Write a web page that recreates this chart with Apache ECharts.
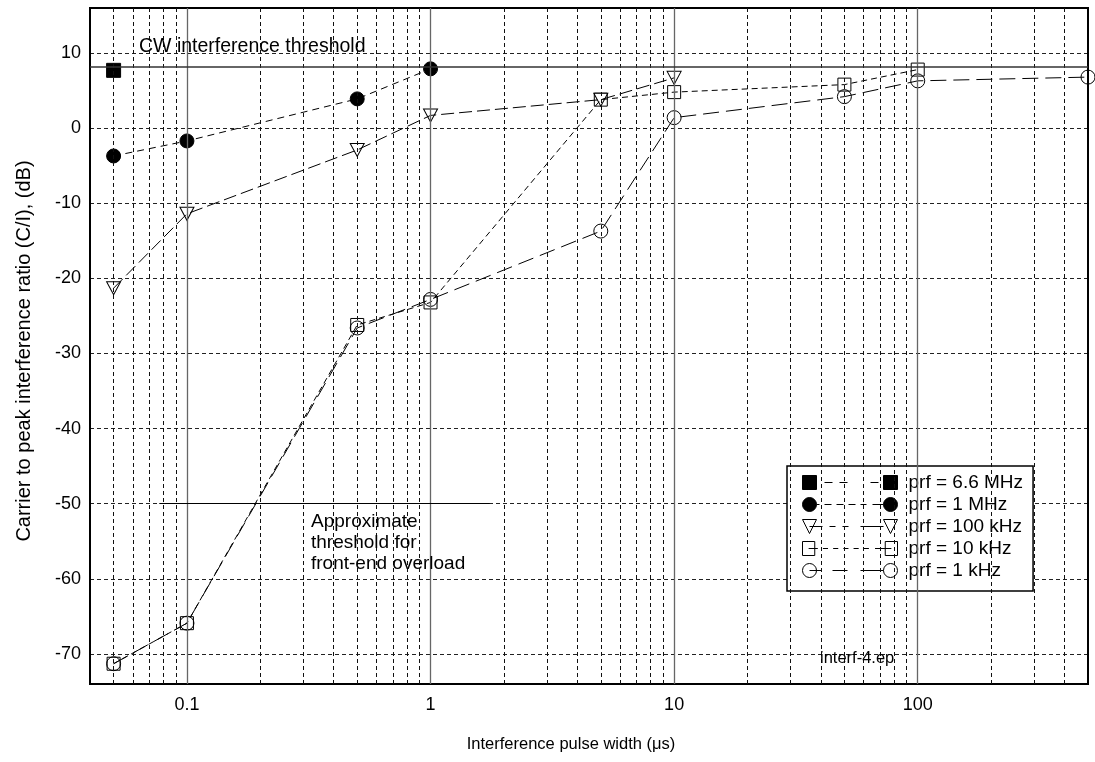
<!DOCTYPE html>
<html>
<head>
<meta charset="utf-8">
<style>
  html, body { margin: 0; padding: 0; background: #fff; }
  #chart { width: 1095px; height: 762px; }
</style>
<script src="https://cdn.jsdelivr.net/npm/echarts@6/dist/echarts.min.js"></script>
</head>
<body>
<div id="chart"></div>
<script>
// Pulse width (µs) and carrier-to-peak-interference ratio (dB) per pulse repetition frequency
const pulseWidth66MHz = [0.05];
const ci66MHz = [7.7];

const pulseWidth1MHz = [0.05, 0.1, 0.5, 1];
const ci1MHz = [-3.7, -1.7, 3.9, 7.9];

const pulseWidth100kHz = [0.05, 0.1, 0.5, 1, 5, 10];
const ci100kHz = [-21.3, -11.4, -2.9, 1.7, 3.8, 6.7];

const pulseWidth10kHz = [0.05, 0.1, 0.5, 1, 5, 10, 50, 100];
const ci10kHz = [-71.3, -65.9, -26.2, -23.2, 3.8, 4.8, 5.8, 7.8];

const pulseWidth1kHz = [0.05, 0.1, 0.5, 1, 5, 10, 50, 100, 500];
const ci1kHz = [-71.3, -65.9, -26.6, -22.8, -13.7, 1.4, 4.2, 6.3, 6.8];

const seriesNames = ['prf = 6.6 MHz', 'prf = 1 MHz', 'prf = 100 kHz', 'prf = 10 kHz', 'prf = 1 kHz'];

// Reference levels
const cwThreshold = 8.2;
const overloadLevel = -50;
const overloadSpan = [0.077, 1.75];

// Log grid: decades (solid) and 2..9 of each decade (dashed)
const decadeGridX = [0.1, 1, 10, 100];
const minorGridX = [0.05, 0.06, 0.07, 0.08, 0.09,
  0.2, 0.3, 0.4, 0.5, 0.6, 0.7, 0.8, 0.9,
  2, 3, 4, 5, 6, 7, 8, 9,
  20, 30, 40, 50, 60, 70, 80, 90,
  200, 300, 400];

const xMin = 0.04, xMax = 500;
const yMin = -74, yMax = 16;

const FONT = 'Liberation Sans, Arial, Helvetica, sans-serif';

function pairs(xs, ys) { return xs.map((x, i) => [x, ys[i]]); }

const triangleDown = 'path://M0,0L14,0L7,13Z';

const openStyle = { color: 'rgba(0,0,0,0)', borderColor: '#000', borderWidth: 1 };
const filledStyle = { color: '#000', borderColor: '#000', borderWidth: 1 };

// Legend samples: marker, line pattern, marker
const legendIcons = [
  'path://M0,0L14,0L14,14L0,14Z M22,7L30,7 M37,7L45,7 M68,7L76,7 M81,0L95,0L95,14L81,14Z',
  'path://M0,7A7,7,0,1,1,14,7A7,7,0,1,1,0,7Z M14,7L17,7 M22,7L29,7 M34,7L41,7 M46,7L53,7 M58,7L64,7 M70,7L81,7 M81,7A7,7,0,1,1,95,7A7,7,0,1,1,81,7Z',
  'path://M0,0L14,0L7,14Z M7,7L20,7 M27,7L33,7 M40,7L46,7 M58,7L81,7 M81,0L95,0L88,14Z',
  'path://M1,1L13,1L13,13L1,13Z M7,7L16,7 M21,7L26,7 M31,7L36,7 M41,7L46,7 M51,7L56,7 M61,7L66,7 M72,7L88,7 M82,1L94,1L94,13L82,13Z',
  'path://M0,7A7,7,0,1,1,14,7A7,7,0,1,1,0,7Z M7,7L19,7 M30,7L45,7 M58,7L81,7 M81,7A7,7,0,1,1,95,7A7,7,0,1,1,81,7Z'
];
const legendFills = [filledStyle, filledStyle, openStyle, openStyle, openStyle];

function isDecade(v) {
  const l = Math.log10(v);
  return Math.abs(l - Math.round(l)) < 1e-6;
}

const chart = echarts.init(document.getElementById('chart'), null, { renderer: 'canvas' });

const option = {
  animation: false,
  backgroundColor: '#fff',
  textStyle: { fontFamily: FONT },
  grid: {
    left: 90, top: 8, right: 7, bottom: 78,
    show: true, borderColor: '#000', borderWidth: 2, backgroundColor: '#fff'
  },
  legend: {
    orient: 'vertical',
    left: 787, top: 466,
    padding: [7, 10, 11, 15],
    backgroundColor: '#fff',
    borderColor: '#000', borderWidth: 1.5, borderRadius: 0,
    itemWidth: 95, itemHeight: 14, itemGap: 3,
    selectedMode: false,
    symbolKeepAspect: false,
    textStyle: { fontFamily: FONT, fontSize: 19, color: '#000', padding: [0, 0, 0, 6] },
    data: seriesNames.map((n, i) => ({
      name: n,
      icon: legendIcons[i],
      itemStyle: legendFills[i]
    }))
  },
  xAxis: [{
    type: 'log', logBase: 10, min: xMin, max: xMax,
    name: 'Interference pulse width (μs)',
    nameLocation: 'middle', nameGap: 52,
    nameTextStyle: { fontFamily: FONT, fontSize: 16.5, color: '#000', padding: [0, 36, 0, 0] },
    axisLine: { show: true, onZero: false, lineStyle: { color: '#000', width: 2 } },
    axisTick: { show: false },
    axisLabel: {
      fontFamily: FONT, fontSize: 18, color: '#000', margin: 12,
      showMinLabel: false, showMaxLabel: false,
      formatter: v => isDecade(v) ? String(Number(v.toPrecision(6))) : ''
    },
    splitLine: { show: false },
    minorTick: { show: false }, minorSplitLine: { show: false }
  }, {
    type: 'log', logBase: 10, min: xMin, max: xMax, position: 'top',
    axisLine: { show: true, onZero: false, lineStyle: { color: '#000', width: 2 } },
    axisTick: { show: false }, axisLabel: { show: false }, splitLine: { show: false }
  }],
  yAxis: [{
    type: 'value', min: yMin, max: yMax, splitNumber: 9,
    name: 'Carrier to peak interference ratio (C/I), (dB)',
    nameLocation: 'middle', nameGap: 56,
    nameTextStyle: { fontFamily: FONT, fontSize: 20, color: '#000', padding: [0, 10, 0, 0] },
    axisLine: { show: true, onZero: false, lineStyle: { color: '#000', width: 2 } },
    axisTick: { show: false },
    axisLabel: {
      fontFamily: FONT, fontSize: 18, color: '#000', margin: 9,
      formatter: v => (Math.round(v) % 10 === 0 ? String(Math.round(v)) : '')
    },
    splitLine: { show: true, lineStyle: { color: '#222', width: 1, type: [4, 3] } }
  }, {
    type: 'value', min: yMin, max: yMax, splitNumber: 9, position: 'right',
    axisLine: { show: true, onZero: false, lineStyle: { color: '#000', width: 2 } },
    axisTick: { show: false }, axisLabel: { show: false }, splitLine: { show: false }
  }],
  series: [
    {
      // log grid and reference lines
      type: 'line', data: [], z: 1, silent: true,
      markLine: {
        silent: true, symbol: 'none', animation: false,
        label: { show: false },
        lineStyle: { color: '#111', width: 1, type: [4, 3] },
        data: minorGridX.map(v => ({ xAxis: v }))
          .concat(decadeGridX.map(v => ({ xAxis: v, lineStyle: { color: '#666', width: 1.3, type: 'solid' } })))
          .concat([
            { yAxis: cwThreshold, lineStyle: { color: '#333', width: 1.5, type: 'solid' } },
            [
              { coord: [overloadSpan[0], overloadLevel], lineStyle: { color: '#000', width: 1, type: 'solid' } },
              { coord: [overloadSpan[1], overloadLevel] }
            ]
          ])
      }
    },
    {
      name: seriesNames[0], type: 'line', z: 3,
      data: pairs(pulseWidth66MHz, ci66MHz),
      symbol: 'rect', symbolSize: 14,
      itemStyle: filledStyle,
      lineStyle: { color: '#000', width: 1, type: [6, 5] }
    },
    {
      name: seriesNames[1], type: 'line', z: 3,
      data: pairs(pulseWidth1MHz, ci1MHz),
      symbol: 'circle', symbolSize: 14,
      itemStyle: filledStyle,
      lineStyle: { color: '#000', width: 1, type: [7, 5] }
    },
    {
      name: seriesNames[2], type: 'line', z: 3,
      data: pairs(pulseWidth100kHz, ci100kHz),
      symbol: triangleDown, symbolSize: [14, 13],
      itemStyle: openStyle,
      lineStyle: { color: '#000', width: 1, type: [13, 5] }
    },
    {
      name: seriesNames[3], type: 'line', z: 3,
      data: pairs(pulseWidth10kHz, ci10kHz),
      symbol: 'rect', symbolSize: 13,
      itemStyle: openStyle,
      lineStyle: { color: '#000', width: 1, type: [6, 4] }
    },
    {
      name: seriesNames[4], type: 'line', z: 3,
      data: pairs(pulseWidth1kHz, ci1kHz),
      symbol: 'circle', symbolSize: 14,
      itemStyle: openStyle,
      lineStyle: { color: '#000', width: 1, type: [16, 7] }
    }
  ],
  graphic: [
    {
      type: 'text', left: 139, top: 37, z: 10, silent: true,
      style: { text: 'CW interference threshold', font: '19.5px ' + FONT, fill: '#000' }
    },
    {
      type: 'text', left: 311, top: 511, z: 10, silent: true,
      style: {
        text: 'Approximate\nthreshold for\nfront-end overload',
        font: '19px ' + FONT, fill: '#000', lineHeight: 21
      }
    },
    {
      type: 'text', left: 820, top: 650, z: 10, silent: true,
      style: { text: 'interf-4.ep', font: '16.5px ' + FONT, fill: '#000' }
    }
  ]
};

chart.setOption(option);
</script>
</body>
</html>
